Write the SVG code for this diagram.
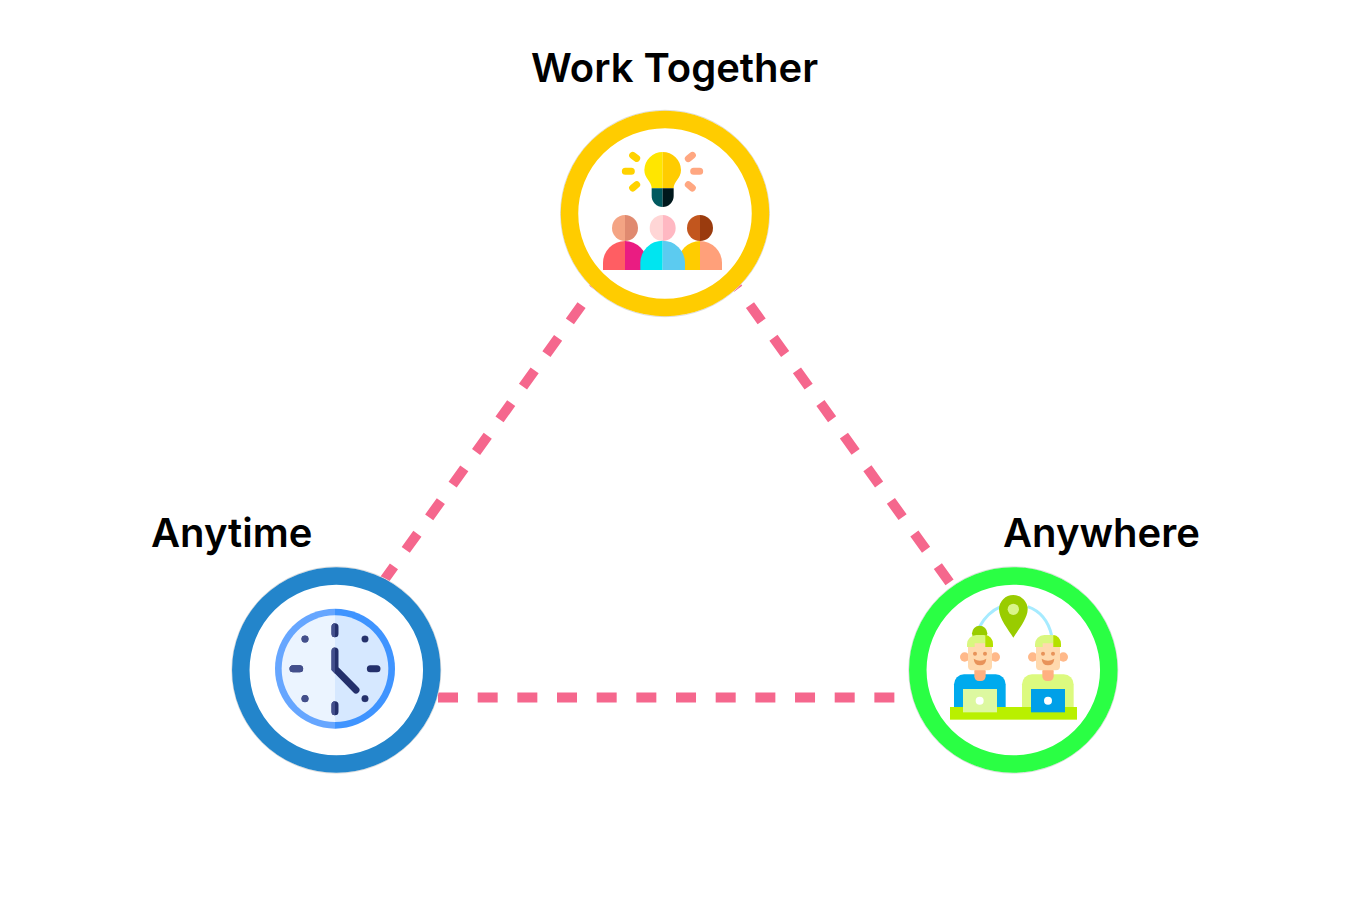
<svg xmlns="http://www.w3.org/2000/svg" width="1350" height="897" viewBox="0 0 1350 897">
<style>
.bg{fill:#fff}
.dash{fill:none;stroke:#F5678D;stroke-width:10}
.halo{fill:none;stroke:#dcdcdc;stroke-width:1}
.ring{fill:#fff;stroke-width:17.5}
.label{font-family:"Inter","Liberation Sans",sans-serif;font-weight:600;font-size:40px;fill:#000}
.cap{fill:none;stroke-linecap:round}
</style>
<defs>
<clipPath id="clockLeft"><rect x="100" y="100" width="230" height="500"/></clipPath>
<g id="clockMarks">
<path class="cap" stroke-width="21" d="M330 215V236M330 449V470M204 341H224M436 341H456M330 288V341L393 405"/>
<circle cx="240" cy="252" r="10"/><circle cx="240" cy="431" r="10"/><circle cx="420" cy="252" r="10"/><circle cx="420" cy="431" r="10"/>
</g>
<g id="face">
<circle cx="-46" cy="306" r="14" fill="#FFB98A"/><circle cx="46" cy="306" r="14" fill="#FFB98A"/>
<rect x="-17" y="335" width="34" height="43" rx="14" fill="#FFB081"/>
<rect x="-36" y="250" width="72" height="96" rx="12" fill="#FFD9AE"/>
<path d="M-39 276V268A28 28 0 0 1 -11 240H11A28 28 0 0 1 39 268V276H16V265H-16V276Z" fill="#D9F77F"/>
<path d="M16 240A24 28 0 0 1 39 268V276H16Z" fill="#B5E000"/>
<circle cx="-15" cy="296" r="6" fill="#E8935A"/><circle cx="15" cy="296" r="6" fill="#E8935A"/>
<path d="M-19 311Q-17 331 0 331Q17 331 19 311Q0 323 -19 311Z" fill="#E8935A"/>
</g>
</defs>
<rect class="bg" width="1350" height="897"/>
<g id="connectors">
<path class="dash" stroke-dasharray="20 20.2" d="M605 272.5L382 583"/>
<path class="dash" stroke-dasharray="20 20.2" d="M726.5 272.5L950 583"/>
<path class="dash" stroke-dasharray="20 19.67" d="M438 697.5H930"/>
</g>
<g id="node-work-together">
<ellipse class="halo" cx="665" cy="213.5" rx="104.5" ry="103.2"/>
<ellipse class="ring" stroke="#FFCC00" cx="665" cy="213.5" rx="95.5" ry="94"/>
<g transform="translate(550 100) scale(.33333)">
<path d="M338 156A55 55 0 0 0 283 210C283 235 305 245 305 265H338Z" fill="#FFE600"/>
<path d="M338 156A55 55 0 0 1 393 210C393 235 371 245 371 265H338Z" fill="#FFCC00"/>
<path d="M305 265V288A33 33 0 0 0 338 321V265Z" fill="#00595F"/>
<path d="M371 265V288A33 33 0 0 1 338 321V265Z" fill="#00181C"/>
<path class="cap" stroke="#FFD200" stroke-width="21" d="M248 166L260 175M226 214H244M248 264L260 254"/>
<path class="cap" stroke="#FFA781" stroke-width="21" d="M427 166L415 176M431 214H449M427 264L415 254"/>
<path d="M225 345A39 39 0 0 0 225 423Z" fill="#F4A484"/><path d="M225 345A39 39 0 0 1 225 423Z" fill="#E08A70"/>
<path d="M338 345A39 39 0 0 0 338 423Z" fill="#FFD6D6"/><path d="M338 345A39 39 0 0 1 338 423Z" fill="#FFB8C2"/>
<path d="M450 345A39 39 0 0 0 450 423Z" fill="#C2561E"/><path d="M450 345A39 39 0 0 1 450 423Z" fill="#9A3B0E"/>
<path d="M159 510V489A66 66 0 0 1 225 423V510Z" fill="#FF5E63"/><path d="M291 510V489A66 66 0 0 0 225 423V510Z" fill="#EA1C82"/>
<path d="M384 510V489A66 66 0 0 1 450 423V510Z" fill="#FFCC00"/><path d="M516 510V489A66 66 0 0 0 450 423V510Z" fill="#FFA07A"/>
<path d="M271 510V489A67 67 0 0 1 338 422V510Z" fill="#00E5F0"/><path d="M405 510V489A67 67 0 0 0 338 422V510Z" fill="#5CCBF0"/>
</g>
<text class="label" x="531" y="82">Work Together</text>
</g>
<g id="node-anytime">
<ellipse class="halo" cx="336.3" cy="670" rx="104.5" ry="103.2"/>
<ellipse class="ring" stroke="#2385CB" cx="336.3" cy="670" rx="95.5" ry="94"/>
<g transform="translate(225 555) scale(.33333)">
<path d="M330 161A180 180 0 0 0 330 521Z" fill="#66A6FF"/><path d="M330 161A180 180 0 0 1 330 521Z" fill="#3F94FF"/>
<path d="M330 181A160 160 0 0 0 330 501Z" fill="#EBF4FF"/><path d="M330 181A160 160 0 0 1 330 501Z" fill="#D6E8FF"/>
<use href="#clockMarks" fill="#24306B" stroke="#24306B"/>
<g clip-path="url(#clockLeft)"><use href="#clockMarks" fill="#434F8C" stroke="#434F8C"/></g>
</g>
<text class="label" x="151" y="547">Anytime</text>
</g>
<g id="node-anywhere">
<ellipse class="halo" cx="1013.3" cy="670" rx="104.5" ry="103.2"/>
<ellipse class="ring" stroke="#2AFF44" cx="1013.3" cy="670" rx="95.5" ry="94"/>
<g transform="translate(900 555) scale(.33333)">
<path d="M238 216Q262 172 302 155M383 155Q440 175 455 242" fill="none" stroke="#A6EBFF" stroke-width="9"/>
<path d="M340 120A43 43 0 0 1 383 163C383 190 355 225 340 248C325 225 297 190 297 163A43 43 0 0 1 340 120Z" fill="#99CC00"/>
<circle cx="340" cy="163" r="17" fill="#D9F58A"/>
<circle cx="239" cy="235" r="23" fill="#99CC00"/>
<path d="M162 460V388A30 30 0 0 1 192 358H287A30 30 0 0 1 317 388V460Z" fill="#00AAEE"/>
<path d="M366 460V388A30 30 0 0 1 396 358H491A30 30 0 0 1 521 388V460Z" fill="#DCFA7F"/>
<use href="#face" x="240"/><use href="#face" x="444"/>
<rect x="150" y="456" width="381" height="38" fill="#B9F000"/>
<rect x="189" y="402" width="102" height="70" fill="#DDF8A0"/><circle cx="239" cy="437" r="12" fill="#fff"/>
<rect x="393" y="402" width="102" height="70" fill="#00A0E8"/><circle cx="444" cy="437" r="12" fill="#fff"/>
</g>
<text class="label" x="1003" y="547">Anywhere</text>
</g>
</svg>
